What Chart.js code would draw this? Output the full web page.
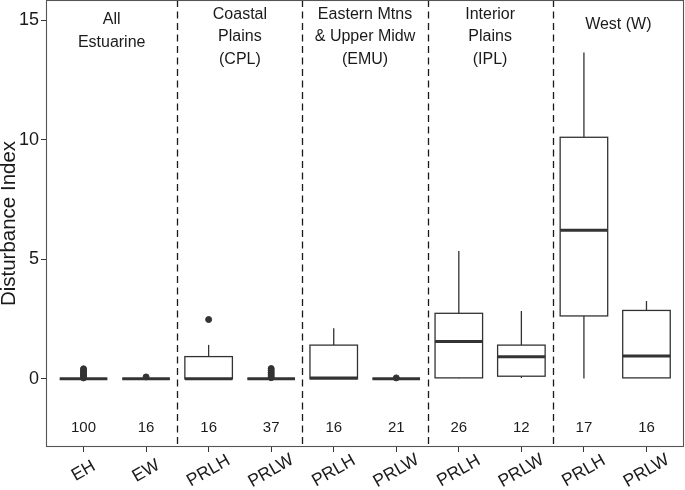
<!DOCTYPE html>
<html>
<head>
<meta charset="utf-8">
<script src="https://cdn.jsdelivr.net/npm/chart.js@4.4.0/dist/chart.umd.min.js"></script>
<style>
  html, body { margin: 0; padding: 0; background: #fff; }
  #wrap { width: 685px; height: 490px; }
</style>
</head>
<body>
<div id="wrap"><canvas id="chart"></canvas></div>
<script>
// box plot summaries
var categories = ['EH', 'EW', 'PRLH', 'PRLW', 'PRLH', 'PRLW', 'PRLH', 'PRLW', 'PRLH', 'PRLW'];
var counts = [100, 16, 16, 37, 16, 21, 26, 12, 17, 16];
var whiskerLow = [0, 0, 0, 0, 0, 0, 0.02, 0.04, 0.01, 0.03];
var q1 = [0, 0, 0, 0, 0, 0, 0.04, 0.11, 2.63, 0.04];
var medians = [0, 0, 0, 0, 0.04, 0, 1.56, 0.92, 6.21, 0.96];
var q3 = [0, 0, 0.93, 0, 1.41, 0, 2.74, 1.41, 10.1, 2.86];
var whiskerHigh = [0, 0, 1.42, 0, 2.12, 0, 5.35, 2.84, 13.64, 3.25];
var outliers = [
    [0.04, 0.1, 0.16, 0.22, 0.29, 0.36, 0.42],
    [0.08],
    [2.48],
    [0.05, 0.12, 0.2, 0.27, 0.35, 0.43],
    [],
    [0.04],
    [], [], [], []
];
// regions: first category index of each, and header lines
var groupStart = [0, 2, 4, 6, 8];
var groupNames = [
    ['All', 'Estuarine'],
    ['Coastal', 'Plains', '(CPL)'],
    ['Eastern Mtns', '& Upper Midw', '(EMU)'],
    ['Interior', 'Plains', '(IPL)'],
    ['West (W)']
];
var groupLabelY = [15.0, 15.25, 15.25, 15.25, 14.8];
var countLabelY = -2.03;
var yTicks = [0, 5, 10, 15];

var FONT = "'Liberation Sans', Arial, sans-serif";
var INK = '#333333';

var points = [];
outliers.forEach(function(list, i) {
    list.forEach(function(v) { points.push({x: i, y: v}); });
});

var boxPlugin = {
    id: 'boxes',
    beforeDatasetsDraw: function(chart) {
        var ctx = chart.ctx, xs = chart.scales.x, ys = chart.scales.y, area = chart.chartArea;
        var half = (xs.getPixelForValue(0.38) - xs.getPixelForValue(0));
        ctx.save();
        // region separators
        ctx.strokeStyle = '#1a1a1a';
        ctx.lineWidth = 1.3;
        ctx.setLineDash([7, 4.5]);
        groupStart.slice(1).forEach(function(g) {
            var px = Math.round(xs.getPixelForValue(g - 0.5)) + 0.5;
            ctx.beginPath();
            ctx.moveTo(px, area.top);
            ctx.lineTo(px, area.bottom);
            ctx.stroke();
        });
        ctx.setLineDash([]);
        for (var i = 0; i < categories.length; i++) {
            var cx = xs.getPixelForValue(i);
            ctx.strokeStyle = INK;
            ctx.lineWidth = 1.3;
            ctx.beginPath();
            ctx.moveTo(cx, ys.getPixelForValue(whiskerHigh[i]));
            ctx.lineTo(cx, ys.getPixelForValue(q3[i]));
            ctx.moveTo(cx, ys.getPixelForValue(q1[i]));
            ctx.lineTo(cx, ys.getPixelForValue(whiskerLow[i]));
            ctx.stroke();
            var top = ys.getPixelForValue(q3[i]), bot = ys.getPixelForValue(q1[i]);
            ctx.fillStyle = '#ffffff';
            ctx.fillRect(cx - half, top, 2 * half, bot - top);
            ctx.strokeRect(cx - half, top, 2 * half, bot - top);
            ctx.lineWidth = 3;
            ctx.beginPath();
            ctx.moveTo(cx - half, ys.getPixelForValue(medians[i]));
            ctx.lineTo(cx + half, ys.getPixelForValue(medians[i]));
            ctx.stroke();
        }
        ctx.restore();
    },
    afterDraw: function(chart) {
        var ctx = chart.ctx, xs = chart.scales.x, ys = chart.scales.y, area = chart.chartArea;
        ctx.save();
        ctx.strokeStyle = '#555555';
        ctx.lineWidth = 1.1;
        ctx.strokeRect(area.left + 0.5, area.top + 0.5, area.right - area.left - 1, area.bottom - area.top - 1);
        ctx.fillStyle = '#1a1a1a';
        ctx.textAlign = 'center';
        ctx.textBaseline = 'middle';
        // region headers
        ctx.font = '16px ' + FONT;
        groupStart.forEach(function(g, k) {
            var from = k === 0 ? xs.min : g - 0.5;
            var to = k === groupStart.length - 1 ? xs.max : groupStart[k + 1] - 0.5;
            var cx = xs.getPixelForValue((from + to) / 2);
            var y0 = ys.getPixelForValue(groupLabelY[k]);
            groupNames[k].forEach(function(line, j) {
                ctx.fillText(line, cx, y0 + j * 22.5);
            });
        });
        // sample sizes
        ctx.font = '15px ' + FONT;
        counts.forEach(function(n, i) {
            ctx.fillText(String(n), xs.getPixelForValue(i), ys.getPixelForValue(countLabelY));
        });
        // rotated category labels
        ctx.font = '17.5px ' + FONT;
        categories.forEach(function(c, i) {
            ctx.save();
            ctx.translate(xs.getPixelForValue(i), area.bottom + 24);
            ctx.rotate(-Math.PI / 6);
            ctx.fillText(c, 0, 0);
            ctx.restore();
        });
        ctx.restore();
    }
};

new Chart(document.getElementById('chart'), {
    type: 'scatter',
    data: {
        datasets: [{
            data: points,
            backgroundColor: INK,
            borderColor: INK,
            pointRadius: 3,
            pointHoverRadius: 3
        }]
    },
    options: {
        responsive: true,
        maintainAspectRatio: false,
        animation: false,
        layout: { autoPadding: false, padding: { left: 0, right: 1, top: 0, bottom: 38 } },
        plugins: { legend: { display: false }, tooltip: { enabled: false } },
        scales: {
            x: {
                type: 'linear',
                min: -0.6,
                max: 9.6,
                afterBuildTicks: function(axis) {
                    axis.ticks = categories.map(function(c, i) { return {value: i}; });
                },
                afterFit: function(axis) { axis.paddingLeft = 0; axis.paddingRight = 0; },
                ticks: { display: false },
                grid: { drawOnChartArea: false, tickLength: 5, color: INK },
                border: { display: false }
            },
            y: {
                min: -2.85,
                max: 15.84,
                afterBuildTicks: function(axis) {
                    axis.ticks = yTicks.map(function(v) { return {value: v}; });
                },
                afterFit: function(axis) { axis.width = 46; axis.paddingTop = 0; axis.paddingBottom = 0; },
                ticks: { color: '#1a1a1a', font: { size: 18, family: FONT }, padding: 2 },
                grid: { drawOnChartArea: false, tickLength: 5, color: INK },
                border: { display: false },
                title: {
                    display: true,
                    text: 'Disturbance Index',
                    color: '#1a1a1a',
                    font: { size: 20.5, family: FONT },
                    padding: { top: -3, bottom: 0 }
                }
            }
        }
    },
    plugins: [boxPlugin]
});
</script>
</body>
</html>
